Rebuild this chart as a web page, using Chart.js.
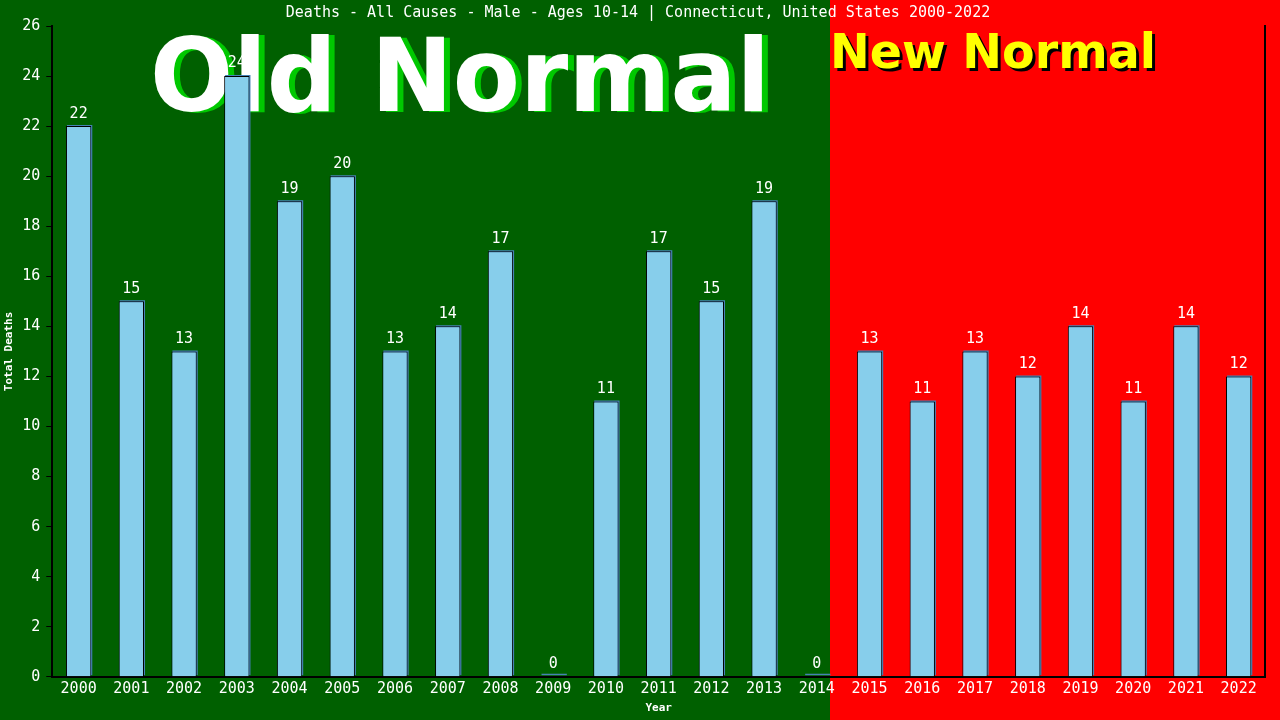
<!DOCTYPE html>
<html>
<head>
<meta charset="utf-8">
<script src="https://cdn.jsdelivr.net/npm/chart.js@4"></script>
<style>
    html, body { margin: 0; padding: 0; background: #006000; }
    canvas { display: block; }
</style>
</head>
<body>
<canvas id="chart" width="1280" height="720"></canvas>
<script>
const TITLE = "Deaths - All Causes - Male - Ages 10-14 | Connecticut, United States 2000-2022";
const years = ["2000", "2001", "2002", "2003", "2004", "2005", "2006", "2007", "2008", "2009", "2010", "2011",
    "2012", "2013", "2014", "2015", "2016", "2017", "2018", "2019", "2020", "2021", "2022"];
const deaths = [22, 15, 13, 24, 19, 20, 13, 14, 17, 0, 11, 17, 15, 19, 0, 13, 11, 13, 12, 14, 11, 14, 12];
const Y_MAX = 26;
const Y_STEP = 2;
const SPLIT_INDEX = 14; // last "old normal" year

const MONO = "'DejaVu Sans Mono', monospace";
const GREEN = "#006000";
const RED = "#ff0000";

// draws text squeezed to a given width, with a drop shadow
function bannerText(ctx, text, x, y, width, color, shadow, dx, dy) {
    const w = ctx.measureText(text).width;
    const sx = width / w;
    ctx.save();
    ctx.translate(x, y);
    ctx.scale(sx, 1);
    ctx.fillStyle = shadow;
    ctx.fillText(text, dx / sx, dy);
    ctx.fillStyle = color;
    ctx.fillText(text, 0, 0);
    ctx.restore();
}

// backgrounds: green on the left, red from the split to the right edge
const backgroundPlugin = {
    id: "eraBackground",
    beforeDraw(chart) {
        const { ctx, width, height } = chart;
        const split = chart.scales.x.getPixelForValue(SPLIT_INDEX + 0.25);
        ctx.save();
        ctx.fillStyle = GREEN;
        ctx.fillRect(0, 0, width, height);
        ctx.fillStyle = RED;
        ctx.fillRect(split, 0, width - split, height);
        ctx.restore();
    },
    beforeDatasetsDraw(chart) {
        const { ctx } = chart;
        const split = chart.scales.x.getPixelForValue(SPLIT_INDEX + 0.25);
        ctx.save();
        ctx.textBaseline = "alphabetic";
        ctx.textAlign = "left";

        ctx.font = "bold 101px 'DejaVu Sans'";
        bannerText(ctx, "Old Normal", 150, 111, 620, "#ffffff", "#00c800", 6, 1);

        ctx.font = "bold 48px 'DejaVu Sans'";
        bannerText(ctx, "New Normal", split, 68, 326, "#ffff00", "#000000", 3, 3);
        ctx.restore();
    },
};

// shadow dataset is nudged right/up so it peeks out behind the bars
const shadowPlugin = {
    id: "barShadow",
    beforeDatasetDraw(chart, args) {
        if (args.index !== 1) return;
        chart.ctx.save();
        chart.ctx.translate(1, -1);
    },
    afterDatasetDraw(chart, args) {
        if (args.index !== 1) return;
        chart.ctx.restore();
    },
};

const valueLabelPlugin = {
    id: "valueLabels",
    afterDatasetsDraw(chart) {
        const { ctx } = chart;
        const meta = chart.getDatasetMeta(0);
        ctx.save();
        ctx.font = "15px " + MONO;
        ctx.fillStyle = "#ffffff";
        ctx.textAlign = "center";
        ctx.textBaseline = "bottom";
        meta.data.forEach((bar, i) => {
            ctx.fillText(String(deaths[i]), bar.x, bar.y - 5);
        });
        ctx.restore();
    },
};

new Chart(document.getElementById("chart"), {
    type: "bar",
    data: {
        labels: years,
        datasets: [
            {
                data: deaths,
                order: 0,
                grouped: false,
                backgroundColor: "#87ceeb",
                borderColor: "#000000",
                borderWidth: { left: 1, top: 1, right: 1, bottom: 0 },
                borderSkipped: false,
                categoryPercentage: 1,
                barPercentage: 0.48,
            },
            {
                data: deaths,
                order: 1,
                grouped: false,
                backgroundColor: "#4682b4",
                borderWidth: 0,
                minBarLength: 2,
                categoryPercentage: 1,
                barPercentage: 0.48,
            },
        ],
    },
    options: {
        responsive: false,
        animation: false,
        layout: { padding: { left: 3, right: 7, top: 0, bottom: 0 } },
        plugins: {
            legend: { display: false },
            tooltip: { enabled: false },
            title: {
                display: true,
                text: TITLE,
                color: "#ffffff",
                font: { family: MONO, size: 15, weight: "normal" },
                padding: { top: 4, bottom: 4 },
            },
        },
        scales: {
            x: {
                grid: { display: false, drawTicks: false },
                border: { display: true, color: "#000000", width: 2 },
                ticks: { color: "#ffffff", font: { family: MONO, size: 15 }, padding: 3, maxRotation: 0 },
                title: {
                    display: true,
                    text: "Year",
                    color: "#ffffff",
                    font: { family: MONO, size: 11, weight: "bold" },
                    padding: { top: 1, bottom: 5 },
                },
            },
            y: {
                min: 0,
                max: Y_MAX,
                ticks: { stepSize: Y_STEP, color: "#ffffff", font: { family: MONO, size: 15 }, padding: 6 },
                grid: { display: true, drawOnChartArea: false, drawTicks: true, tickLength: 6, color: "#000000" },
                border: { display: true, color: "#000000", width: 2 },
                title: {
                    display: true,
                    text: "Total Deaths",
                    color: "#ffffff",
                    font: { family: MONO, size: 11, weight: "bold" },
                    padding: { top: 0, bottom: 0 },
                },
            },
            yRight: {
                position: "right",
                min: 0,
                max: Y_MAX,
                ticks: { display: false },
                grid: { display: false },
                border: { display: true, color: "#000000", width: 2 },
            },
        },
    },
    plugins: [backgroundPlugin, shadowPlugin, valueLabelPlugin],
});
</script>
</body>
</html>
